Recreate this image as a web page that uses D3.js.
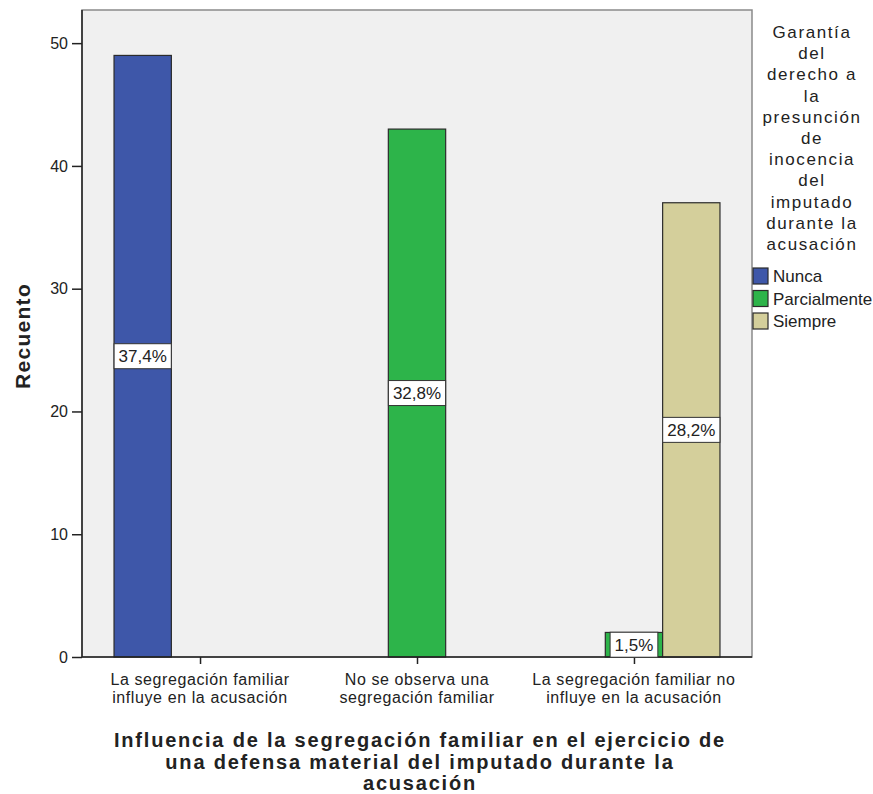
<!DOCTYPE html>
<html>
<head>
<meta charset="utf-8">
<script src="https://cdn.jsdelivr.net/npm/d3@7"></script>
<style>
  body { margin: 0; background: #fff; }
  text { font-family: "Liberation Sans", Arial, sans-serif; fill: #222; }
</style>
</head>
<body>
<svg id="vis" width="873" height="794"></svg>
<script>
const width = 873;
const height = 794;

// categories on the x axis (each label split into two lines)
const categories = [
  "La segregación familiar influye en la acusación",
  "No se observa una segregación familiar",
  "La segregación familiar no influye en la acusación"
];
const categoryLines = [
  ["La segregación familiar", "influye en la acusación"],
  ["No se observa una", "segregación familiar"],
  ["La segregación familiar no", "influye en la acusación"]
];

// legend series
const series = ["Nunca", "Parcialmente", "Siempre"];
const seriesColors = ["#3e57a9", "#2db44a", "#d4cf9b"];

// counts (Recuento) per category, one array per series
const nunca = [49, 0, 0];
const parcialmente = [0, 43, 2];
const siempre = [0, 0, 37];

const yTicks = [0, 10, 20, 30, 40, 50];

const legendTitle = ["Garantía", "del", "derecho a", "la", "presunción", "de",
  "inocencia", "del", "imputado", "durante la", "acusación"];
const xTitle = ["Influencia de la segregación familiar en el ejercicio de",
  "una defensa material del imputado durante la", "acusación"];

const plot = { left: 82, right: 752, top: 10, bottom: 657 };

const svg = d3.select("#vis");

const total = d3.sum(nunca) + d3.sum(parcialmente) + d3.sum(siempre);
const fmtPct = v => d3.format(".1f")(v / total * 100).replace(".", ",") + "%";

const x = d3.scalePoint()
  .domain(categories)
  .range([plot.left, plot.right])
  .padding(0.544);

const xSub = d3.scaleBand()
  .domain(series)
  .range([-86, 86]);

const y = d3.scaleLinear()
  .domain([0, 52.7])
  .range([plot.bottom, plot.top]);

const color = d3.scaleOrdinal().domain(series).range(seriesColors);

// plot background + frame
svg.append("rect")
  .attr("x", plot.left)
  .attr("y", plot.top)
  .attr("width", plot.right - plot.left)
  .attr("height", plot.bottom - plot.top)
  .style("fill", "#f0f0f0")
  .style("stroke", "#8a8a8a")
  .style("stroke-width", 1.5);

// flatten bars
const values = [nunca, parcialmente, siempre];
const bars = [];
series.forEach(function(s, si) {
  categories.forEach(function(c, ci) {
    if (values[si][ci] > 0) {
      bars.push({ series: s, category: c, value: values[si][ci] });
    }
  });
});

svg.append("g").selectAll("rect.bar")
  .data(bars)
  .enter()
  .append("rect")
  .attr("class", "bar")
  .attr("x", d => x(d.category) + xSub(d.series))
  .attr("y", d => y(d.value))
  .attr("width", xSub.bandwidth())
  .attr("height", d => y(0) - y(d.value))
  .style("fill", d => color(d.series))
  .style("stroke", "#2b2b2b")
  .style("stroke-width", 1.2);

// axes
const yAxis = svg.append("g")
  .attr("transform", "translate(" + plot.left + ",0)")
  .call(d3.axisLeft(y).tickValues(yTicks).tickSize(10).tickFormat(d3.format("d")));
yAxis.select(".domain").attr("d", "M0," + plot.top + "V" + plot.bottom).style("stroke", "#222").style("stroke-width", 1.5);
yAxis.selectAll(".tick line").style("stroke", "#222").style("stroke-width", 1.5);
yAxis.selectAll(".tick text")
  .attr("x", -14)
  .style("font-size", "16px")
  .style("font-family", "Liberation Sans, Arial, sans-serif")
  .style("fill", "#222");

const xAxis = svg.append("g")
  .attr("transform", "translate(0," + plot.bottom + ")")
  .call(d3.axisBottom(x).tickSize(7).tickFormat(""));
xAxis.select(".domain").attr("d", "M" + plot.left + ",0H" + plot.right).style("stroke", "#222").style("stroke-width", 1.5);
xAxis.selectAll(".tick line").style("stroke", "#222").style("stroke-width", 1.5);

// category labels
svg.append("g").selectAll("text.cat")
  .data(categories)
  .enter()
  .append("text")
  .attr("class", "cat")
  .attr("text-anchor", "middle")
  .style("font-size", "16px")
  .style("letter-spacing", "0.6px")
  .each(function(d, i) {
    d3.select(this).selectAll("tspan")
      .data(categoryLines[i])
      .enter()
      .append("tspan")
      .attr("x", x(d))
      .attr("y", (l, j) => 685 + j * 18)
      .text(l => l);
  });

// percentage labels
const labels = svg.append("g").selectAll("g.label")
  .data(bars)
  .enter()
  .append("g")
  .attr("class", "label")
  .attr("transform", d => "translate(" + (x(d.category) + xSub(d.series) + xSub.bandwidth() / 2) + "," + ((y(d.value) + y(0)) / 2) + ")");

labels.append("rect").attr("class", "box");
labels.append("text")
  .attr("text-anchor", "middle")
  .attr("dy", "0.36em")
  .style("font-size", "17px")
  .text(d => fmtPct(d.value));
labels.each(function() {
  const g = d3.select(this);
  const w = g.select("text").node().getComputedTextLength() + 9;
  g.select("rect")
    .attr("x", -w / 2)
    .attr("y", -12.5)
    .attr("width", w)
    .attr("height", 25)
    .style("fill", "#fff")
    .style("stroke", "#333")
    .style("stroke-width", 1);
});

// y title
svg.append("text")
  .attr("transform", "translate(30,336) rotate(-90)")
  .attr("text-anchor", "middle")
  .style("font-size", "21px")
  .style("font-weight", "bold")
  .style("letter-spacing", "1.3px")
  .text("Recuento");

// x title
svg.append("g").selectAll("text")
  .data(xTitle)
  .enter()
  .append("text")
  .attr("x", 420)
  .attr("y", (d, i) => 747 + i * 21.5)
  .attr("text-anchor", "middle")
  .style("font-size", "20px")
  .style("font-weight", "bold")
  .style("letter-spacing", "1.8px")
  .text(d => d);

// legend
const legend = svg.append("g");
legend.selectAll("text.ltitle")
  .data(legendTitle)
  .enter()
  .append("text")
  .attr("class", "ltitle")
  .attr("x", 812)
  .attr("y", (d, i) => 38 + i * 21.2)
  .attr("text-anchor", "middle")
  .style("font-size", "17px")
  .style("letter-spacing", "1.6px")
  .text(d => d);

const items = legend.selectAll("g.item")
  .data(series)
  .enter()
  .append("g")
  .attr("class", "item")
  .attr("transform", (d, i) => "translate(753," + (268 + i * 22.5) + ")");

items.append("rect")
  .attr("width", 15)
  .attr("height", 16)
  .style("fill", d => color(d))
  .style("stroke", "#2b2b2b")
  .style("stroke-width", 1.2);

items.append("text")
  .attr("x", 20)
  .attr("y", 14)
  .style("font-size", "17px")
  .text(d => d);
</script>
</body>
</html>
